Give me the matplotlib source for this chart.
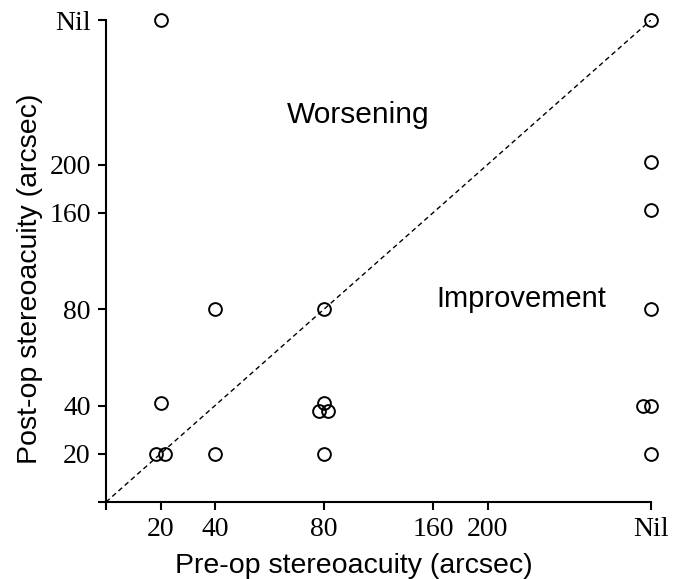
import matplotlib
matplotlib.use("Agg")
import matplotlib.pyplot as plt
import numpy as np

# stereoacuity levels on the axes and where they sit on the (nonlinear) scale
levels = ["20", "40", "80", "160", "200", "Nil"]
level_pos = [1, 2, 4, 6, 7, 10]

# patients: pre-op vs post-op stereoacuity
pre_op = ["20", "Nil", "Nil", "Nil", "Nil", "Nil", "Nil", "Nil",
          "40", "80", "20", "80", "80", "80", "20", "20", "40", "80"]
post_op = ["Nil", "Nil", "200", "160", "80", "40", "40", "20",
           "80", "80", "40", "40", "40", "40", "20", "20", "20", "20"]
# small offsets so overlapping patients stay visible
jitter_x = [0, 0, 0, 0, 0, -0.14, 0, 0,
            0, 0, 0, 0, -0.09, 0.08, -0.09, 0.08, 0, 0]
jitter_y = [0, 0, 0.05, 0.05, 0, 0, 0, 0,
            0, 0, 0.05, 0.05, -0.12, -0.12, 0, 0, 0, 0]

pos = dict(zip(levels, level_pos))
x = np.array([pos[v] for v in pre_op]) + np.array(jitter_x)
y = np.array([pos[v] for v in post_op]) + np.array(jitter_y)

fig = plt.figure(figsize=(6.74, 5.79), dpi=100)
ax = fig.add_axes([106 / 674, 77 / 579, 545 / 674, 482 / 579])

ax.plot([0, 10], [0, 10], linestyle=(0, (3.5, 2.5)), color="black", lw=1.0)
ax.plot(x, y, "o", mfc="none", mec="black", mew=1.4, ms=9.2, clip_on=False)

ax.set_xlim(0, 10)
ax.set_ylim(0, 10)
for s in ["top", "right"]:
    ax.spines[s].set_visible(False)
for s in ["left", "bottom"]:
    ax.spines[s].set_linewidth(1.5)

ax.set_xticks([0] + level_pos)
ax.set_xticklabels([""] + levels)
ax.set_yticks([0] + level_pos)
ax.set_yticklabels([""] + levels)
ax.tick_params(direction="out", length=6, width=1.5, pad=5)
for lab in ax.get_xticklabels() + ax.get_yticklabels():
    lab.set_fontfamily("Liberation Serif")
    lab.set_fontsize(20)

ax.set_xlabel("Pre-op stereoacuity (arcsec)", fontfamily="Liberation Sans", fontsize=20.5)
ax.set_ylabel("Post-op stereoacuity (arcsec)", fontfamily="Liberation Sans", fontsize=20.5)
ax.xaxis.set_label_coords(0.455, -0.105)
ax.yaxis.set_label_coords(-0.115, 0.463)

ax.text(3.32, 7.86, "Worsening", fontfamily="Liberation Sans", fontsize=21.5, va="baseline")
ax.text(6.07, 4.05, "Improvement", fontfamily="Liberation Sans", fontsize=21, va="baseline")

fig.savefig("out.png", dpi=100)
